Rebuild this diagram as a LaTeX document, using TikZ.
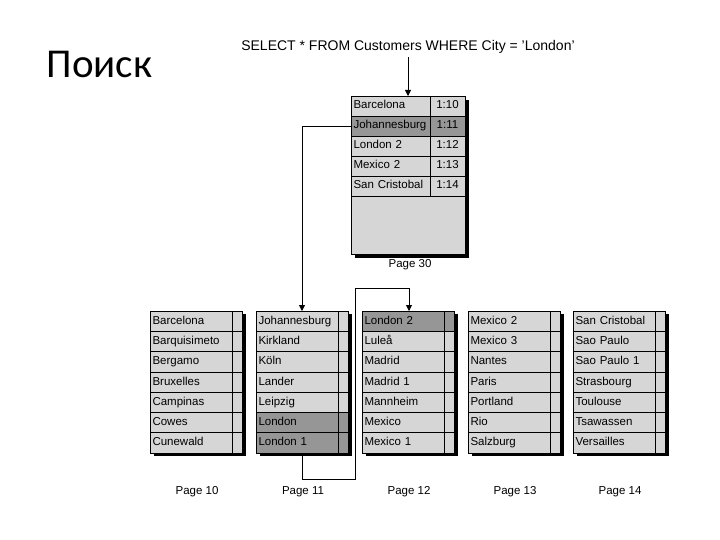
\documentclass[tikz,border=0pt]{standalone}
\usepackage{fontspec}
\setmainfont{Liberation Sans}
\newfontfamily\titlefont{Carlito}
\usetikzlibrary{arrows.meta,positioning,calc}

\definecolor{plain}{RGB}{214,214,214}
\definecolor{hit}{RGB}{150,150,150}

\begin{document}
\begin{tikzpicture}[
    x=1pt,y=-1pt,
    cell/.style={draw=black,line width=0.8pt,fill=plain,anchor=north west,
        inner sep=0pt,outer sep=0pt,minimum height=20.3pt,
        text height=8.5pt,text depth=2.5pt,
        font=\fontsize{11.5}{13}\selectfont},
    namecell/.style={cell,text width=#1,inner xsep=2.5pt,align=left},
    keycell/.style={cell,minimum width=#1},
    pagelabel/.style={font=\fontsize{11.5}{13}\selectfont},
    link/.style={-{Triangle[length=6pt,width=6pt]},line width=0.8pt},
]

\useasboundingbox (0,0) rectangle (720,540);

%----------------------------------
% Title and query
%----------------------------------

\node[anchor=base west,font=\titlefont\fontsize{41}{44}\selectfont] (title)
    at (43,78) {Поиск};

\node[font=\fontsize{14}{16}\selectfont] (query) at (408,47)
    {SELECT * FROM Customers WHERE City = 'London'};

%----------------------------------
% Root page 30
%----------------------------------

\fill (355,100) rectangle (469,258);

\foreach \nm/\key/\col [count=\i] in {Barcelona/1:10/plain,
        Johannesburg/1:11/hit,London 2/1:12/plain,
        Mexico 2/1:13/plain,San Cristobal/1:14/plain} {
    \node[namecell=74pt,fill=\col,minimum height=20pt] (p30n\i) at (351,{96+20*(\i-1)}) {\nm};
    \node[keycell=35pt,fill=\col,minimum height=20pt] (p30k\i) at (430,{96+20*(\i-1)}) {\key};
}
\node[keycell=114pt,minimum height=58pt] (p30rest) at (351,196) {};

\node[pagelabel] (lbl30) at (410,265) {Page 30};

%----------------------------------
% Leaf pages 10 -- 14
%----------------------------------

\foreach \pg/\px/\names in {
    10/150/{Barcelona/plain,Barquisimeto/plain,Bergamo/plain,Bruxelles/plain,
            Campinas/plain,Cowes/plain,Cunewald/plain},
    11/256/{Johannesburg/plain,Kirkland/plain,Köln/plain,Lander/plain,
            Leipzig/plain,London/hit,London 1/hit},
    12/362/{London 2/hit,Luleå/plain,Madrid/plain,Madrid 1/plain,
            Mannheim/plain,Mexico/plain,Mexico 1/plain},
    13/468/{Mexico 2/plain,Mexico 3/plain,Nantes/plain,Paris/plain,
            Portland/plain,Rio/plain,Salzburg/plain},
    14/573/{San Cristobal/plain,Sao Paulo/plain,Sao Paulo 1/plain,
            Strasbourg/plain,Toulouse/plain,Tsawassen/plain,Versailles/plain}} {
    \fill ({\px+4},314) rectangle ({\px+96},456);
    \foreach \nm/\col [count=\i] in \names {
        \node[namecell=77pt,fill=\col] (p\pg n\i) at (\px,{311+20.3*(\i-1)}) {\nm};
        \node[keycell=10pt,fill=\col] (p\pg k\i) at ({\px+82},{311+20.3*(\i-1)}) {};
    }
    \node[pagelabel] (lbl\pg) at ({\px+47},492) {Page \pg};
}

%----------------------------------
% Search path
%----------------------------------

\coordinate (loopLow) at (355,479);
\coordinate (loopHigh) at (409,288);

\draw[link] (query.south) -- (query.south |- p30n1.north);

\draw[link] (p30n2.west) -| ([xshift=5pt]p11n1.north);

\draw[link] ([xshift=5pt]p11n7.south) |- (loopLow) |- (loopHigh)
    -- (loopHigh |- p12n1.north);

\end{tikzpicture}
\end{document}
